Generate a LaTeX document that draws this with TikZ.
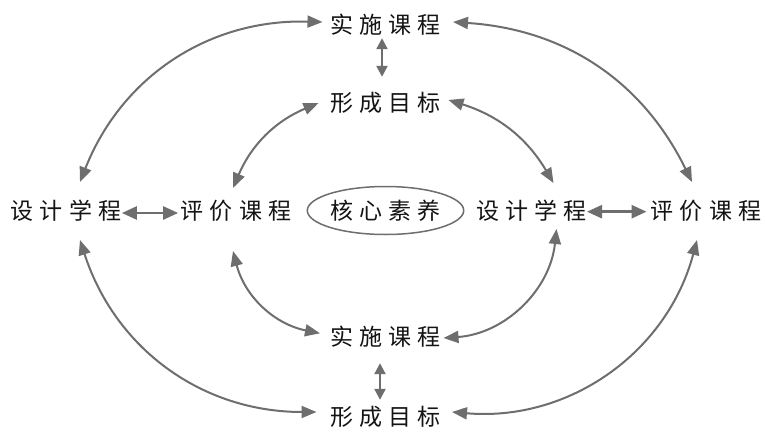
\documentclass[tikz,border=0pt]{standalone}
\usepackage{fontspec}
\newfontfamily\cjk{Noto Sans CJK SC}
\usetikzlibrary{arrows.meta,calc,shapes.geometric}
\definecolor{agray}{RGB}{110,110,110}
\definecolor{txt}{RGB}{20,20,20}
\newcommand\chgap{6.2pt}
\newcommand\fourch[4]{#1\hspace{\chgap}#2\hspace{\chgap}#3\hspace{\chgap}#4}
\begin{document}
\begin{tikzpicture}[x=1pt,y=1pt,
  lbl/.style={font=\cjk\fontsize{23pt}{27pt}\selectfont, text=txt, inner sep=0pt, text height=19pt, text depth=2pt},
  curv/.style={draw=agray, line width=2pt, {Triangle[length=15pt,width=12pt]}-{Triangle[length=15pt,width=12pt]}},
  harr/.style={draw=agray, line width=2.7pt, {Triangle[length=15pt,width=13pt]}-{Triangle[length=15pt,width=13pt]}},
  varr/.style={draw=agray, line width=2.2pt, {Triangle[length=11pt,width=11pt]}-{Triangle[length=11pt,width=11pt]}}]
\fill[white] (0,0) rectangle (765,432);
\useasboundingbox (0,0) rectangle (765,432);

\node[lbl] (t1) at (385.5,407) {\fourch{实}{施}{课}{程}};
\node[lbl] (t2) at (385.5,329) {\fourch{形}{成}{目}{标}};
\node[lbl] (l1) at (66,221) {\fourch{设}{计}{学}{程}};
\node[lbl] (l2) at (236,221) {\fourch{评}{价}{课}{程}};
\node[lbl, ellipse, draw=agray, line width=1.5pt, minimum width=140pt, minimum height=48pt] (c) at (385.5,221.5) {\fourch{核}{心}{素}{养}};
\node[lbl] (r1) at (531.5,221) {\fourch{设}{计}{学}{程}};
\node[lbl] (r2) at (706,221) {\fourch{评}{价}{课}{程}};
\node[lbl] (b1) at (385.5,95) {\fourch{实}{施}{课}{程}};
\node[lbl] (b2) at (385.5,15) {\fourch{形}{成}{目}{标}};

% curved connectors
\draw[curv] ($(l1)+(14,29)$) to[bend left=35] ($(t1)+(-63,3)$);
\draw[curv] ($(l2)+(-3,23)$) to[bend left=22] ($(t2)+(-67,0)$);
\draw[curv] ($(t1)+(67.5,3)$) to[bend left=30] ($(r2)+(-14,29)$);
\draw[curv] ($(t2)+(63,3)$) to[bend left=21] ($(r1)+(22,28)$);
\draw[curv] ($(l1)+(14,-29)$) to[bend right=36] ($(b2)+(-69,5)$);
\draw[curv] ($(l2)+(-3,-40)$) to[bend right=32] ($(b1)+(-65.5,3.7)$);
\draw[curv] ($(r1)+(25,-18)$) to[bend left=40] ($(b1)+(58,-1)$);
\draw[curv] ($(r2)+(-9,-29)$) to[bend left=40] ($(b2)+(66.5,5)$);

% straight connectors
\draw[harr] ($(l1.east)+(0.4,-2)$) -- ($(l2.west)+(-2.4,-2)$);
\draw[harr] ($(r1.east)+(0,-0.7)$) -- ($(r2.west)+(-4,-0.7)$);
\draw[varr] ($(t1.south)+(-3.5,-2.5)$) -- ($(t2.north)+(-3.5,15.5)$);
\draw[varr] ($(b1.south)+(-5.5,-15.5)$) -- ($(b2.north)+(-5.5,6.5)$);
\end{tikzpicture}
\end{document}
